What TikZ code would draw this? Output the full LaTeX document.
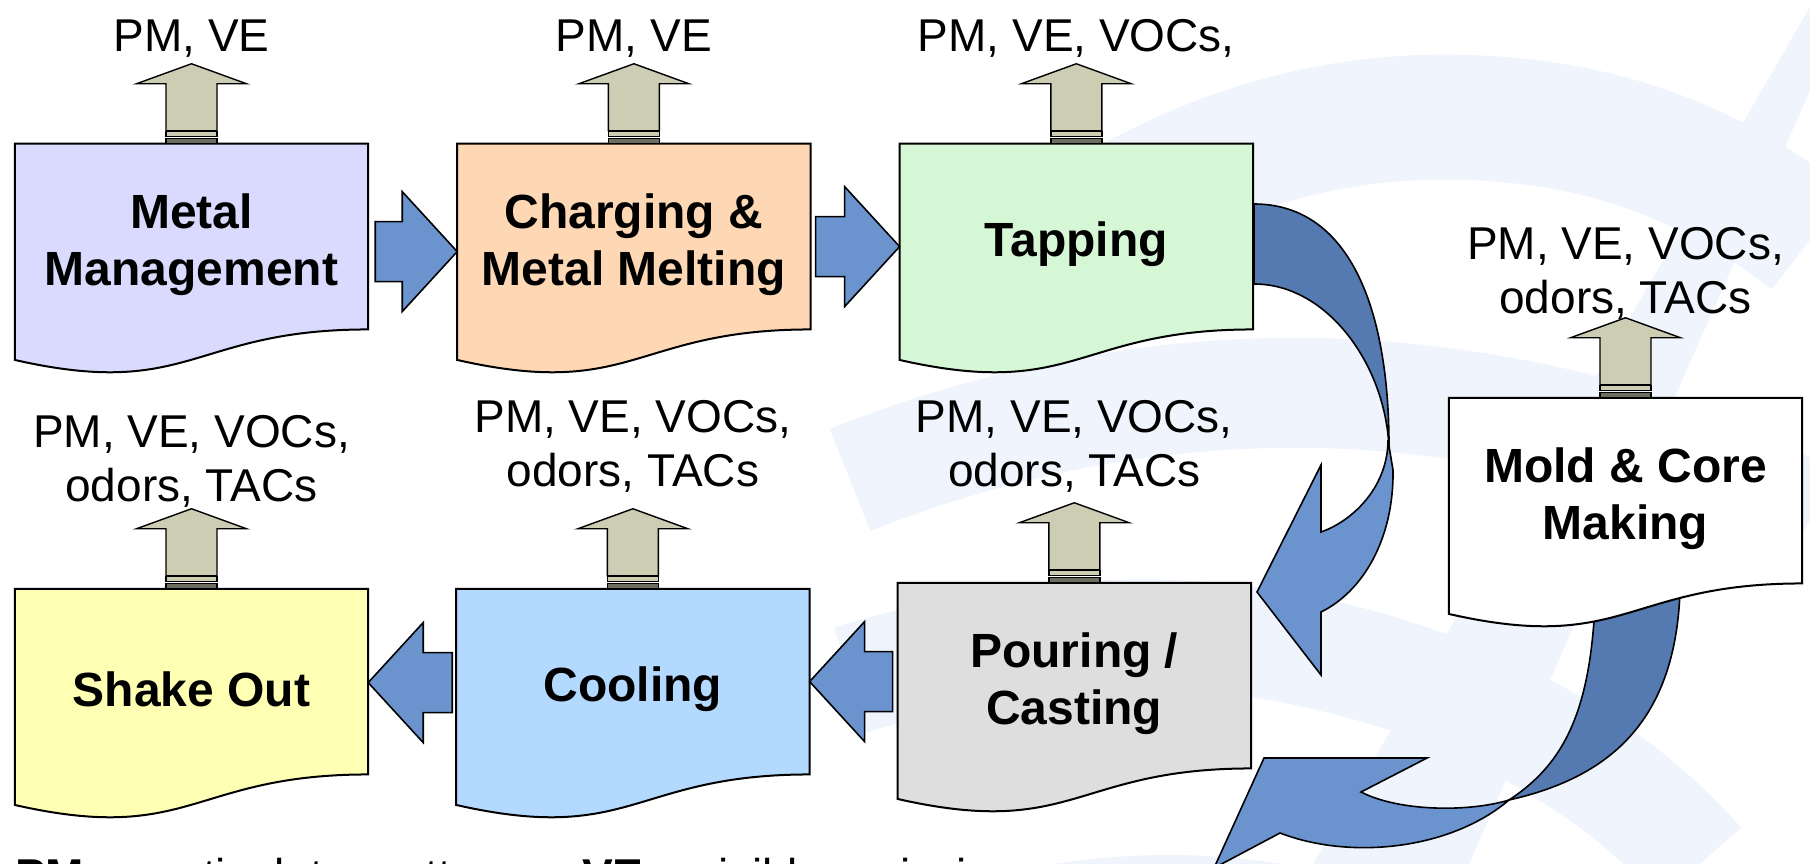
\documentclass[tikz,border=0pt]{standalone}
\usepackage{fontspec}
\setmainfont{Liberation Sans}
\usetikzlibrary{positioning,calc}
\definecolor{lilac}{HTML}{DADAFE}
\definecolor{peach}{HTML}{FED8B4}
\definecolor{mint}{HTML}{D6F7D6}
\definecolor{ash}{HTML}{DEDEDE}
\definecolor{sky}{HTML}{B4D9FF}
\definecolor{cream}{HTML}{FFFFB4}
\definecolor{khaki}{HTML}{CDCDB4}
\definecolor{khakidark}{HTML}{6E6E60}
\definecolor{flow}{HTML}{6B93CE}
\definecolor{flowdark}{HTML}{557AB2}
\definecolor{bgwash}{HTML}{F0F5FD}
\pgfdeclarelayer{back}
\pgfsetlayers{back,main}
% process box with wavy bottom: name, fill, placement, text
\newcommand{\docbox}[4]{%
  \node[doc,#3] (#1) {#4};
  \begin{pgfonlayer}{back}
  \draw[docline,fill=#2] ([yshift=8pt]#1.north west) -- ([yshift=8pt]#1.north east) -- ([yshift=8pt]#1.south east) .. controls ([yshift=8pt]#1.south) and ([yshift=-62.6pt]#1.south) .. ([yshift=-22.5pt]#1.south west) -- cycle;
  \end{pgfonlayer}}
% fat block arrow from tail to tip (horizontal)
\newcommand{\fatarrow}[2]{%
  \draw[flowline] let \p1=(#1), \p2=(#2), \n1={ifthenelse(\x2>\x1,55,-55)} in
    (\x1,\y1+30pt) -- (\x2-\n1,\y1+30pt) -- (\x2-\n1,\y1+60pt) -- (\x2,\y1) -- (\x2-\n1,\y1-60pt) -- (\x2-\n1,\y1-30pt) -- (\x1,\y1-30pt) -- cycle;}

\begin{document}
\begin{tikzpicture}[x=1pt,y=-1pt]
\tikzset{doc/.style={minimum width=353pt,minimum height=185.3pt,inner sep=0pt,align=center,font=\fontsize{48}{57}\selectfont\bfseries}, docline/.style={draw=black,line width=2pt}, emit/.style={inner sep=0pt,align=center,font=\fontsize{46}{54}\selectfont}, flowline/.style={draw=black,line width=1.6pt,fill=flow}, ventline/.style={draw=black,line width=1.4pt}, band/.style={draw=bgwash,line width=#1pt}}
\tikzset{vent/.pic={
  \draw[ventline,fill=khaki] (-25.5,-13) -- (-25.5,-60) -- (-55,-60) -- (0,-80) -- (55,-60) -- (25.5,-60) -- (25.5,-13) -- cycle;
  \draw[ventline,fill=khaki] (-25.5,-7) rectangle (25.5,-12);
  \draw[ventline,fill=khakidark] (-25.5,0) rectangle (25.5,-5);}}
\useasboundingbox (0,0) rectangle (1810,864);
% background swooshes
\begin{pgfonlayer}{back}
\fill[bgwash] (1814,0) -- (1850,0) -- (1469,864) -- (1313,864) -- cycle;
\draw[band=125] (950,330) .. controls (1150,150) and (1330,110) .. (1480,118) .. controls (1620,125) and (1720,170) .. (1810,240);
\draw[band=110] (850,480) .. controls (1050,400) and (1250,380) .. (1420,400) .. controls (1600,420) and (1720,470) .. (1810,520);
\draw[band=110] (850,680) .. controls (1050,620) and (1200,630) .. (1300,650) .. controls (1450,680) and (1600,750) .. (1700,864);
\draw[band=110] (900,960) .. controls (1100,890) and (1250,900) .. (1400,950);
% back of the mold arrow, under the box
\draw[flowline,fill=flowdark] (1680,560) .. controls (1685,710) and (1620,775) .. (1509,800) .. controls (1570,760) and (1596,700) .. (1596,560) -- cycle;
\end{pgfonlayer}
% process boxes
\docbox{metal}{lilac}{at={(191.5,244.6)}}{Metal\\Management}
\docbox{charging}{peach}{right=89pt of metal}{Charging \&\\Metal Melting}
\docbox{tapping}{mint}{right=89pt of charging}{Tapping}
\docbox{shake}{cream}{at={(191.5,689.6)}}{Shake Out}
\docbox{cooling}{sky}{right=88pt of shake}{Cooling}
\docbox{pouring}{ash}{right=88pt of cooling,yshift=6pt}{Pouring /\\Casting}
\docbox{mold}{white}{at={(1625.5,498.6)}}{Mold \& Core\\Making}
% emissions
\foreach \n in {metal,charging,tapping,shake,cooling,pouring,mold} \pic at ([yshift=8pt]\n.north) {vent};
\node[emit] (metalgas) at ([yshift=113pt]metal.north) {PM, VE};
\node[emit] (charginggas) at ([yshift=113pt]charging.north) {PM, VE};
\node[emit] (tappinggas) at ([yshift=113pt]tapping.north) {PM, VE, VOCs,};
\node[emit] (shakegas) at ([yshift=135pt]shake.north) {PM, VE, VOCs,\\odors, TACs};
\node[emit] (coolinggas) at ([yshift=150pt]cooling.north) {PM, VE, VOCs,\\odors, TACs};
\node[emit] (pouringgas) at ([yshift=144pt]pouring.north) {PM, VE, VOCs,\\odors, TACs};
\node[emit] (moldgas) at ([yshift=132pt]mold.north) {PM, VE, VOCs,\\odors, TACs};
% material flow
\fatarrow{[xshift=7pt,yshift=-7pt]metal.east}{charging.west}
\fatarrow{[xshift=5pt,yshift=-2pt]charging.east}{tapping.west}
\fatarrow{[xshift=-5pt,yshift=2pt]pouring.west}{cooling.east}
\fatarrow{[xshift=-4pt,yshift=7pt]cooling.west}{shake.east}
% tapping to pouring, curved
\draw[flowline,fill=flowdark] (1254,204) .. controls (1345,204) and (1390,300) .. (1389,452) .. controls (1388,370) and (1330,284) .. (1254,284) -- cycle;
\draw[flowline] (1388,440) .. controls (1388,485) and (1355,520) .. (1321,532) -- (1321,465) -- (1257,592) -- (1321,675) -- (1321,612) .. controls (1362,592) and (1394,540) .. (1393,470) -- cycle;
% mold to pouring, curved
\draw[flowline] (1509,800) .. controls (1470,812) and (1400,812) .. (1361,792) -- (1427,758) -- (1264,758) -- (1214,868) -- (1280,833) .. controls (1350,860) and (1450,850) .. (1509,800) -- cycle;
\node[anchor=base west,inner sep=0pt,font=\fontsize{46}{54}\selectfont] (note) at (15,891) {\textbf{PM} = particulate matter,\hspace{80pt}\textbf{VE} = visible emissions};
\end{tikzpicture}
\end{document}
